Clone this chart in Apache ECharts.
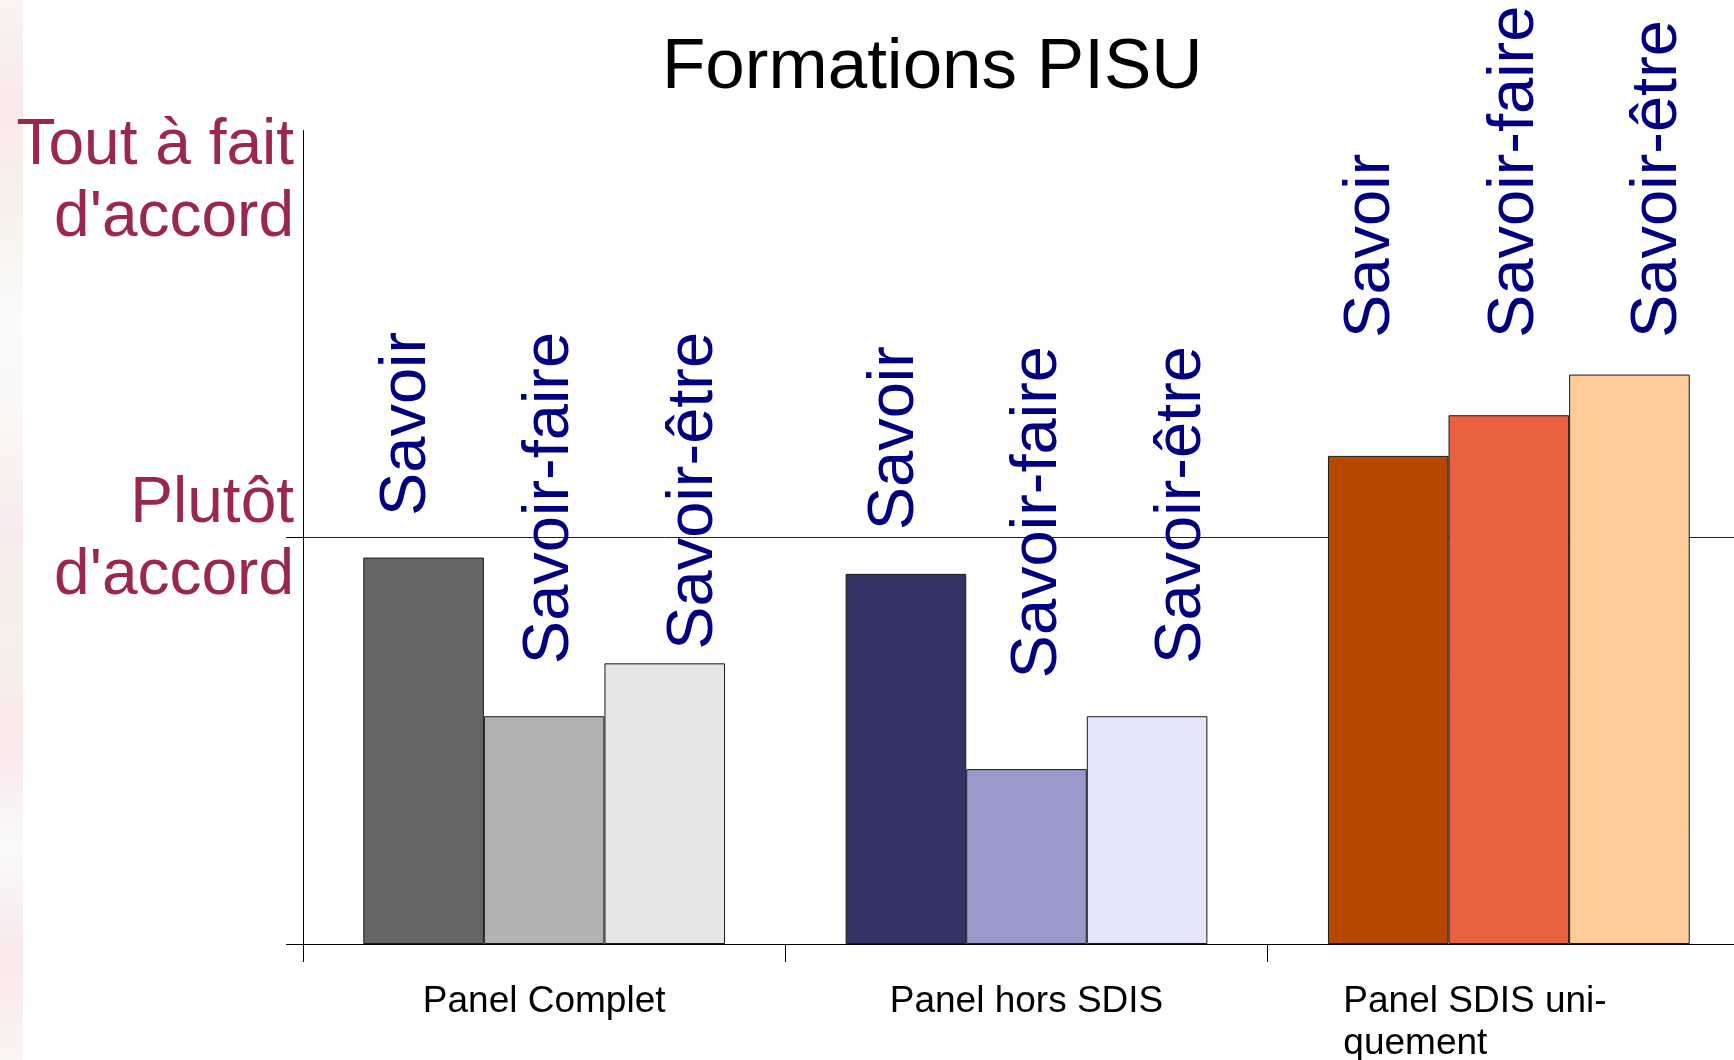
<!DOCTYPE html>
<html>
<head>
<meta charset="utf-8">
<title>Formations PISU</title>
<script src="https://cdn.jsdelivr.net/npm/echarts@6/dist/echarts.min.js"></script>
<style>
  html, body { margin: 0; padding: 0; background: #fff; overflow: hidden; }
  /* le graphique déborde un peu à droite, comme l'original */
  #main { width: 1750px; height: 1060px; }
</style>
</head>
<body>
<div id="main"></div>
<script>
// données (0 = bas, 1 = Plutôt d'accord, 2 = Tout à fait d'accord)
const categories = ['Panel Complet', 'Panel hors SDIS', 'Panel SDIS uniquement'];
const seriesNames = ['Savoir', 'Savoir-faire', 'Savoir-être'];
const savoir = [0.95, 0.91, 1.20];
const savoirFaire = [0.56, 0.43, 1.30];
const savoirEtre = [0.69, 0.56, 1.40];
const yTickLabels = ['', "Plutôt\nd'accord", "Tout à fait\nd'accord"];

// couleurs par panel (une teinte par groupe)
const palette = [
  ['#666666', '#b2b2b2', '#e5e5e5'],
  ['#333366', '#9999cc', '#e6e6fa'],
  ['#b84700', '#ea6140', '#fecb99']
];
// placement des étiquettes verticales (en unités de l'axe)
const labelAnchor = [
  { at: 1.505, align: 'right', shift: 0 },
  { at: 1.47, align: 'right', shift: 6 },
  { at: 1.49, align: 'left', shift: 0 }
];
const labelShift = [-17, 6, 29];

const FONT = 'Liberation Sans';
const chart = echarts.init(document.getElementById('main'));

const option = {
  animation: false,
  backgroundColor: '#ffffff',
  textStyle: { fontFamily: FONT },
  title: {
    text: 'Formations PISU',
    left: 657,
    top: 28,
    textStyle: { fontFamily: FONT, fontSize: 71, fontWeight: 'normal', color: '#000' }
  },
  graphic: [{
    type: 'rect',
    left: 0, top: 0,
    shape: { width: 23, height: 1060 },
    style: {
      fill: new echarts.graphic.LinearGradient(0, 0, 0, 1, [
        { offset: 0, color: '#f9f4f2' },
        { offset: 0.1, color: '#fbe8eb' },
        { offset: 0.2, color: '#f8f2ea' },
        { offset: 0.3, color: '#fafbfc' },
        { offset: 0.4, color: '#fbf7f4' },
        { offset: 0.5, color: '#f9eaed' },
        { offset: 0.6, color: '#f6f1e8' },
        { offset: 0.7, color: '#fbe7ea' },
        { offset: 0.8, color: '#f8fafb' },
        { offset: 0.9, color: '#fae7ea' },
        { offset: 1, color: '#faf5f3' }
      ])
    },
    silent: true
  }],
  grid: { left: 303, top: 130.5, right: 0, height: 813.5, outerBoundsMode: 'none' },
  xAxis: {
    type: 'category',
    data: categories,
    axisLine: { lineStyle: { color: '#000', width: 1 } },
    axisTick: { show: true, length: 18, lineStyle: { color: '#000' } },
    axisLabel: {
      interval: 0,
      margin: 37,
      color: '#000',
      fontSize: 37,
      lineHeight: 42,
      formatter: function (v, i) {
        if (i === 2) return "{w|Panel SDIS uni-}\n{w|quement}";
        return v;
      },
      rich: {
        w: { fontSize: 37, lineHeight: 42, color: '#000', width: 265, align: 'left', padding: [0, 66, 0, 0] }
      }
    }
  },
  yAxis: {
    type: 'value',
    min: 0,
    max: 2,
    interval: 1,
    axisLine: { show: true, lineStyle: { color: '#000', width: 1 } },
    axisTick: { show: true, length: 17, customValues: [0, 1], lineStyle: { color: '#000' } },
    splitLine: { show: true, showMaxLine: true, lineStyle: { color: '#222', width: 1 } },
    axisLabel: {
      margin: 9,
      color: '#99284b',
      fontSize: 64,
      lineHeight: 72,
      formatter: function (v) {
        const txt = yTickLabels[Math.round(v)] || '';
        if (!txt) return '';
        const lines = txt.split('\n').map(s => '{t|' + s + '}').join('\n');
        return (v === 2 ? '{g| }\n' : '{p| }\n') + lines;
      },
      rich: {
        t: { fontSize: 64, lineHeight: 72, color: '#99284b' },
        g: { fontSize: 10, lineHeight: 104 },
        p: { fontSize: 6, lineHeight: 7 }
      }
    }
  },
  series: []
};

chart.setOption(option);

const valueSets = [savoir, savoirFaire, savoirEtre];
const series = valueSets.map(function (vals, s) {
  return {
    name: seriesNames[s],
    type: 'bar',
    barGap: '0%',
    barCategoryGap: '25%',
    itemStyle: { borderColor: '#1a1a1a', borderWidth: 1 },
    label: {
      show: true,
      position: 'top',
      rotate: 90,
      verticalAlign: 'middle',
      formatter: seriesNames[s],
      color: '#000080',
      fontSize: 65,
      fontFamily: FONT
    },
    data: vals.map(function (v, c) {
      const barTop = chart.convertToPixel({ yAxisIndex: 0 }, v);
      const anchor = chart.convertToPixel({ yAxisIndex: 0 }, labelAnchor[c].at);
      return {
        value: v,
        itemStyle: { color: palette[c][s] },
        label: {
          distance: barTop - anchor,
          align: labelAnchor[c].align,
          offset: [0, labelShift[s] + labelAnchor[c].shift]
        }
      };
    })
  };
});

chart.setOption({ series: series });
</script>
</body>
</html>
